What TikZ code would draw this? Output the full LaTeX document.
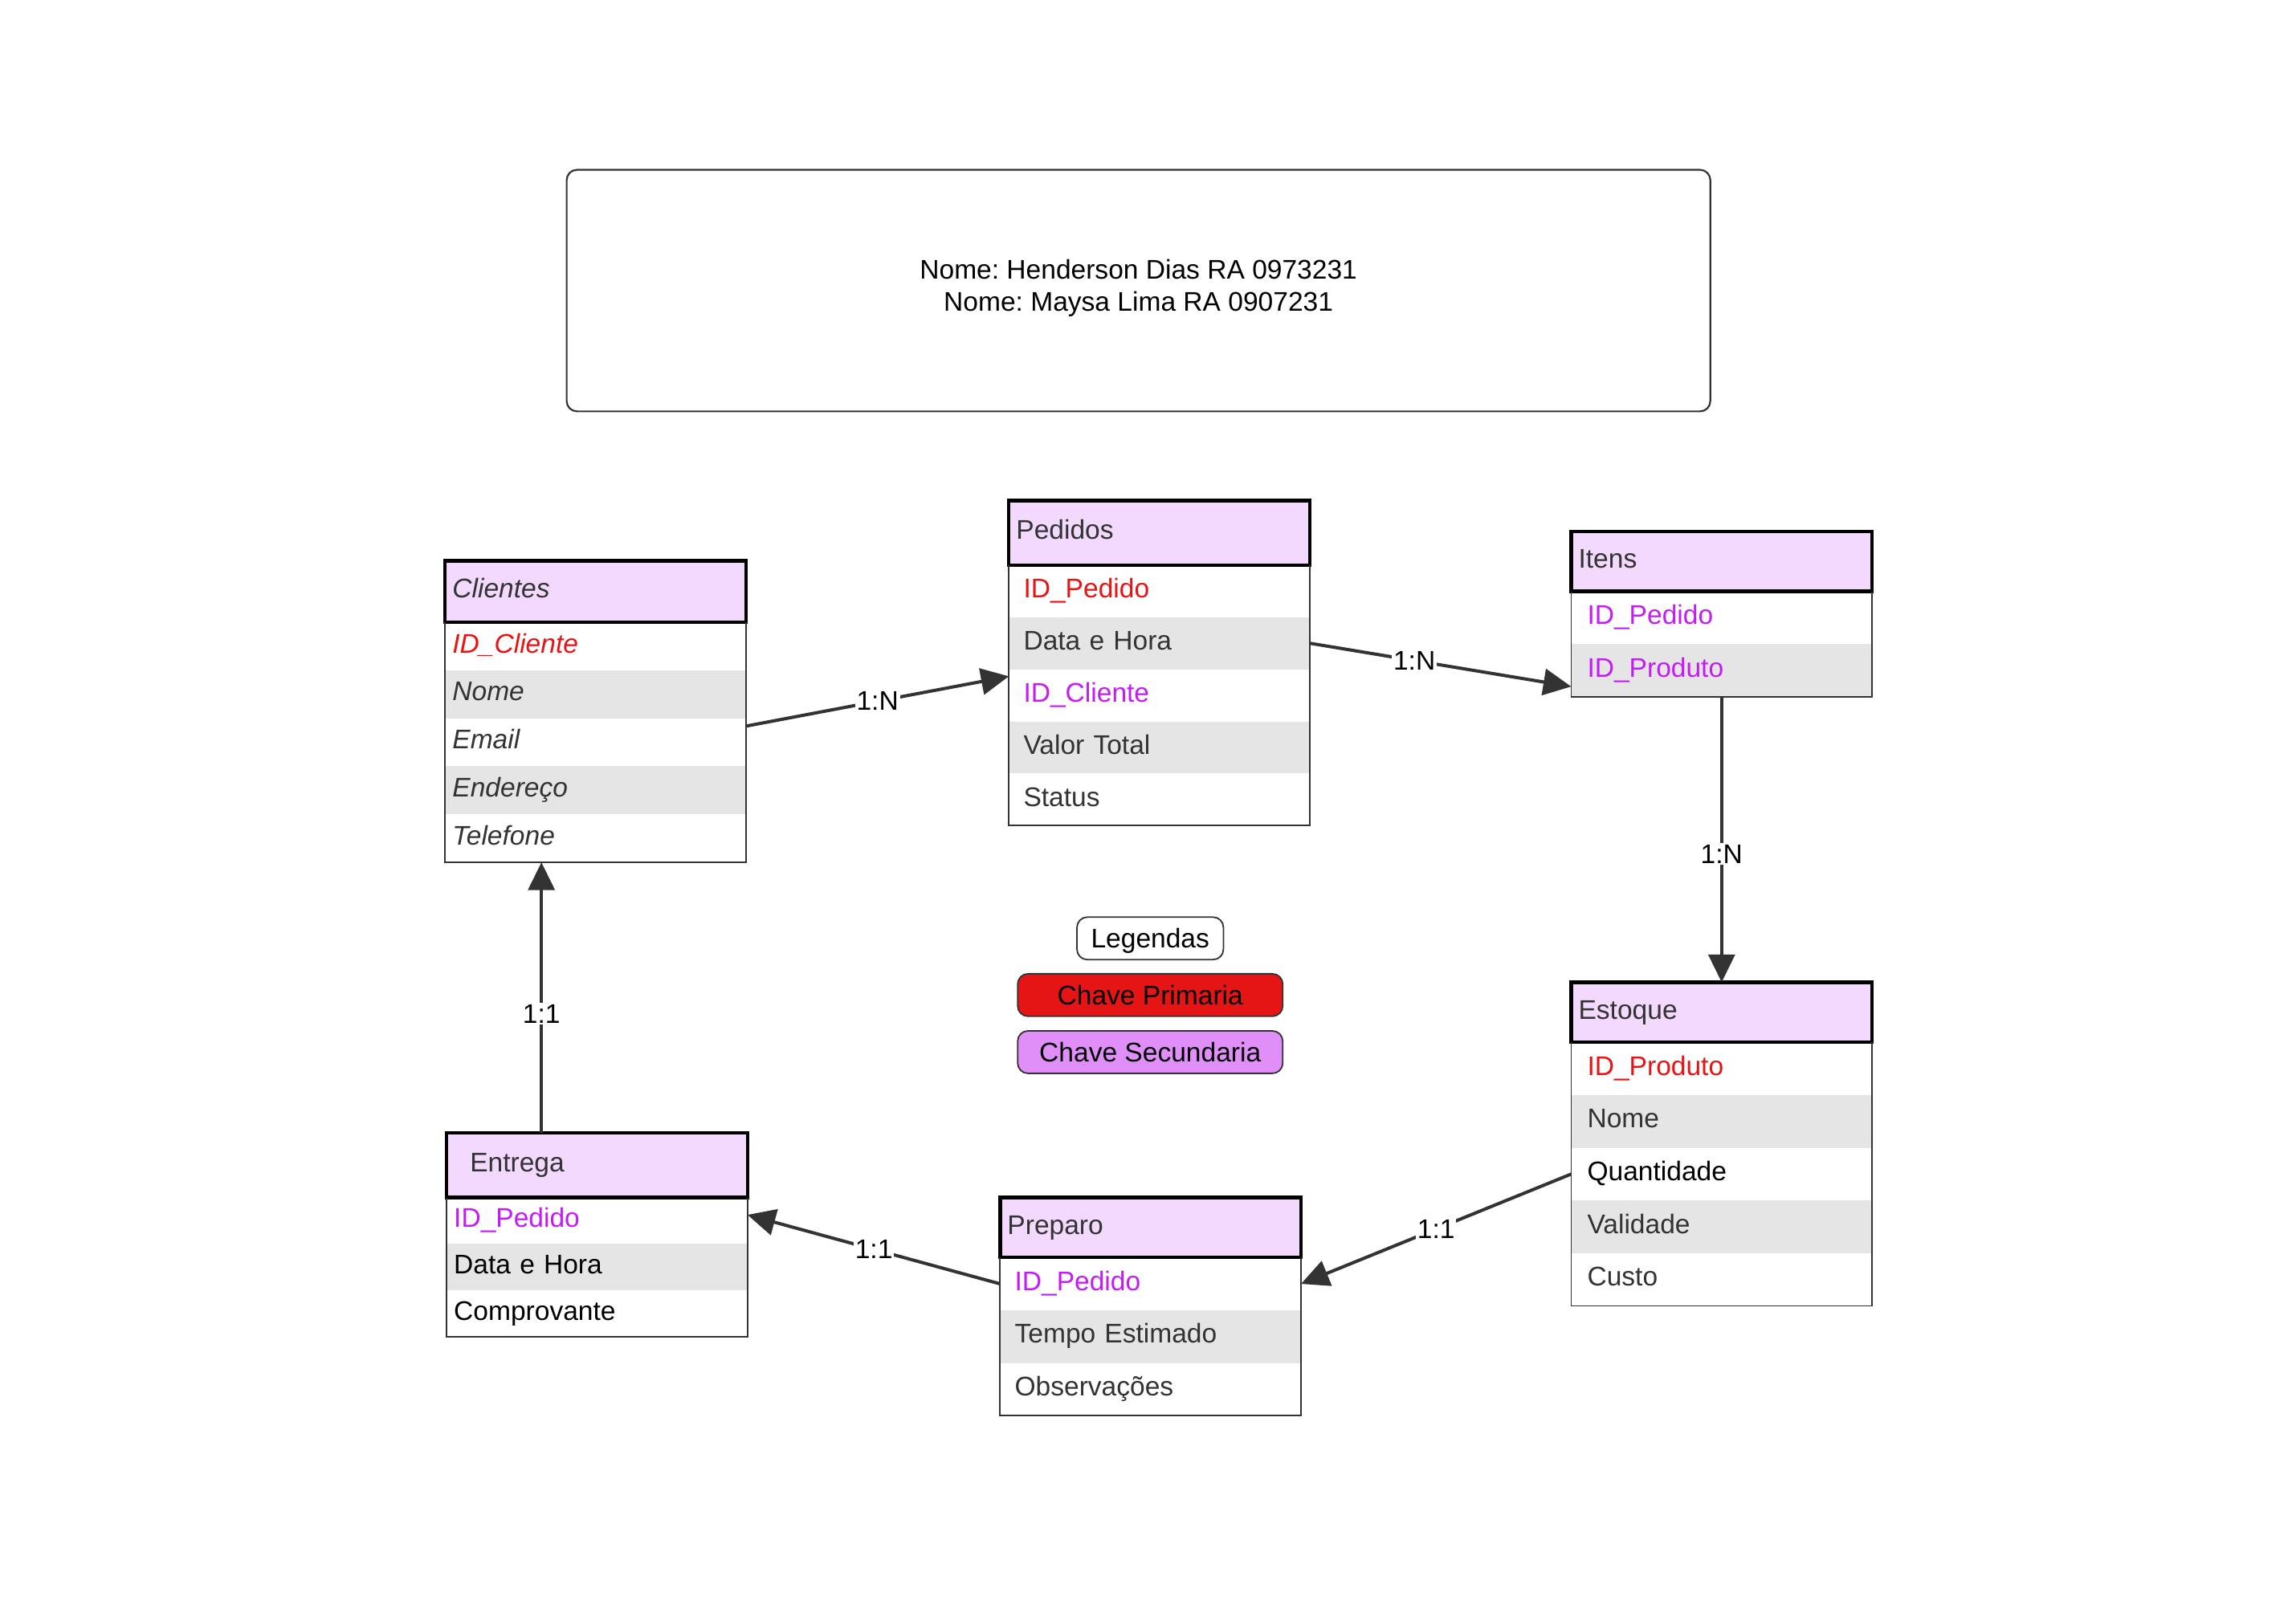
\documentclass[tikz,border=0pt]{standalone}
\usepackage{fontspec}
\setmainfont{Liberation Sans}
\usetikzlibrary{arrows.meta}
\definecolor{hdr}{HTML}{F2D9FD}
\definecolor{rowgray}{HTML}{E5E5E5}
\definecolor{pkred}{HTML}{E81313}
\definecolor{fkpurple}{HTML}{C51CF5}
\definecolor{ink}{HTML}{333333}
\definecolor{pkfill}{HTML}{E51515}
\definecolor{fkfill}{HTML}{E08FF8}
\frenchspacing
\begin{document}
\frenchspacing
\begin{tikzpicture}[x=1pt,y=-1pt,
  every node/.style={font=\fontsize{18.4}{22}\selectfont\frenchspacing, outer sep=0pt},
  row/.style={anchor=north west, inner ysep=0pt, align=left, text height=13pt, text depth=4pt, text=ink},
  hd/.style={row, draw=black, line width=2.4pt, fill=hdr},
  shade/.style={fill=rowgray},
  pk/.style={text=pkred},
  fk/.style={text=fkpurple},
  blk/.style={text=black},
  pfive/.style={inner xsep=5pt, text width=195.5pt},
  pten/.style={inner xsep=10pt, text width=185.5pt},
  peleven/.style={inner xsep=11pt, text width=183.5pt},
  psixteen/.style={inner xsep=16pt, text width=173.5pt},
  body/.style={draw=ink, line width=1pt},
  link/.style={draw=ink, line width=2.2pt, -{Triangle[length=19pt,width=18pt]}},
  lab/.style={fill=white, inner sep=1pt, text=black},
  legend/.style={draw=ink, line width=1pt, rounded corners=7pt, minimum height=29pt, inner sep=0pt, text height=13pt, text depth=0pt, text=black},
  titlebox/.style={draw=ink, line width=1.2pt, rounded corners=7pt, minimum width=781pt, minimum height=165pt, inner sep=0pt},
]
\useasboundingbox[fill=white] (0,0) rectangle (1568,1107.3);

% Title
\node[titlebox] (title) at (777.5,198.5) {};
\node[align=center, text=black, inner sep=0pt] (titletext) at ([yshift=1.8pt]title.center) {Nome: Henderson Dias RA 0973231\\Nome: Maysa Lima RA 0907231};

% Clientes
\node[hd,pfive,minimum height=42pt] (ch) at (304,383) {\itshape Clientes};
\node[row,pfive,pk,minimum height=32.8pt] (c1) at (ch.south west) {\itshape ID\_Cliente};
\node[row,pfive,shade,minimum height=32.8pt] (c2) at (c1.south west) {\itshape Nome};
\node[row,pfive,minimum height=32.8pt] (c3) at (c2.south west) {\itshape Email};
\node[row,pfive,shade,minimum height=32.8pt] (c4) at (c3.south west) {\itshape Endereço};
\node[row,pfive,minimum height=32.8pt] (c5) at (c4.south west) {\itshape Telefone};
\draw[body] (ch.south west) -- (c5.south west) -- (c5.south east) -- (ch.south east);

% Pedidos
\node[hd,pfive,minimum height=44pt] (ph) at (689,342) {Pedidos};
\node[row,pten,pk,minimum height=35.6pt] (p1) at (ph.south west) {ID\_Pedido};
\node[row,pten,shade,minimum height=35.6pt] (p2) at (p1.south west) {Data e Hora};
\node[row,pten,fk,minimum height=35.6pt] (p3) at (p2.south west) {ID\_Cliente};
\node[row,pten,shade,minimum height=35.6pt] (p4) at (p3.south west) {Valor Total};
\node[row,pten,minimum height=35.6pt] (p5) at (p4.south west) {Status};
\draw[body] (ph.south west) -- (p5.south west) -- (p5.south east) -- (ph.south east);

% Itens
\node[hd,pfive,minimum height=41pt] (ih) at (1073,363) {Itens};
\node[row,peleven,fk,minimum height=36pt] (i1) at (ih.south west) {ID\_Pedido};
\node[row,peleven,fk,shade,minimum height=36pt] (i2) at (i1.south west) {ID\_Produto};
\draw[body] (ih.south west) -- (i2.south west) -- (i2.south east) -- (ih.south east);

% Estoque
\node[hd,pfive,minimum height=41pt] (eh) at (1073,671) {Estoque};
\node[row,peleven,pk,minimum height=36pt] (e1) at (eh.south west) {ID\_Produto};
\node[row,peleven,shade,minimum height=36pt] (e2) at (e1.south west) {Nome};
\node[row,peleven,blk,minimum height=36pt] (e3) at (e2.south west) {Quantidade};
\node[row,peleven,shade,minimum height=36pt] (e4) at (e3.south west) {Validade};
\node[row,peleven,minimum height=36pt] (e5) at (e4.south west) {Custo};
\draw[body] (eh.south west) -- (e5.south west) -- (e5.south east) -- (eh.south east);

% Preparo
\node[hd,pfive,minimum height=41pt] (rh) at (683,818) {Preparo};
\node[row,pten,fk,minimum height=36pt] (r1) at (rh.south west) {ID\_Pedido};
\node[row,pten,shade,minimum height=36pt] (r2) at (r1.south west) {Tempo Estimado};
\node[row,pten,minimum height=36pt] (r3) at (r2.south west) {Observações};
\draw[body] (rh.south west) -- (r3.south west) -- (r3.south east) -- (rh.south east);

% Entrega
\node[hd,psixteen,minimum height=44pt] (nh) at (305,774) {Entrega};
\node[row,pfive,fk,minimum height=31.7pt] (n1) at (nh.south west) {ID\_Pedido};
\node[row,pfive,blk,shade,minimum height=31.7pt] (n2) at (n1.south west) {Data e Hora};
\node[row,pfive,blk,minimum height=31.7pt] (n3) at (n2.south west) {Comprovante};
\draw[body] (nh.south west) -- (n3.south west) -- (n3.south east) -- (nh.south east);

% Legend
\node[legend,minimum width=100pt] (lg) at (785.5,641) {Legendas};
\node[legend,minimum width=181pt,fill=pkfill] (lgpk) at (785.5,679.7) {Chave Primaria};
\node[legend,minimum width=181pt,fill=fkfill] (lgfk) at (785.5,718.7) {Chave Secundaria};

% Connectors
\draw[link] ([yshift=11pt]c3.east) -- node[lab,pos=0.5]{1:N} ([yshift=13pt]p3.west);
\draw[link] (p2.east) -- node[lab,pos=0.4]{1:N} ([yshift=-11pt]i2.west);
\draw[link] (i2.south) -- node[lab,pos=0.55]{1:N} (eh.north);
\draw[link] (e3.west) -- node[lab,pos=0.5]{1:1} (r1.east);
\draw[link] (r1.west) -- node[lab,pos=0.5]{1:1} ([yshift=4pt]n1.east);
\draw[link] ([xshift=-38pt]nh.north) -- node[lab,pos=0.44]{1:1} ([xshift=-37pt]c5.south);
\end{tikzpicture}
\end{document}
